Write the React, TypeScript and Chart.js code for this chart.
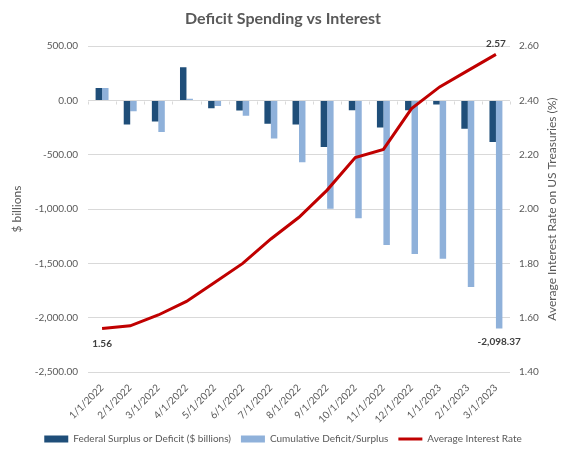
import React, { useEffect, useRef } from "react";
import { Chart, registerables } from "chart.js";

Chart.register(...registerables);

const categories = [
  "1/1/2022", "2/1/2022", "3/1/2022", "4/1/2022", "5/1/2022", "6/1/2022", "7/1/2022", "8/1/2022",
  "9/1/2022", "10/1/2022", "11/1/2022", "12/1/2022", "1/1/2023", "2/1/2023", "3/1/2023",
];
const federalSurplus = [116, -220, -193, 306, -71, -92, -215, -220, -429, -89, -248, -89, -37, -261, -381];
const cumulativeDeficit = [116, -98, -291, 15, -50, -141, -349, -569, -996, -1084, -1330, -1414, -1457, -1717, -2098.37];
const interestRate = [1.56, 1.57, 1.61, 1.66, 1.73, 1.8, 1.89, 1.97, 2.07, 2.19, 2.22, 2.37, 2.45, 2.51, 2.57];
const rightAxisTitle = "Average Interest Rate on US Treasuries (%)";

const FONT = "Lato, 'Open Sans', sans-serif";
const TEXT = "#595959";
const GRID = "#d9d9d9";

const fmtBillions = (v: number) =>
  v.toLocaleString("en-US", { minimumFractionDigits: 2, maximumFractionDigits: 2 });

const labelsPlugin = {
  id: "customLabels",
  afterDatasetsDraw(chart: any) {
    const ctx = chart.ctx;
    const y = chart.scales.y;
    const area = chart.chartArea;
    // tick marks on the zero line
    ctx.save();
    ctx.strokeStyle = GRID;
    ctx.lineWidth = 1;
    const y0 = Math.round(y.getPixelForValue(0)) + 0.5;
    const n = categories.length;
    const step = (area.right - area.left) / n;
    for (let i = 0; i <= n; i++) {
      const px = Math.round(area.left + i * step) + 0.5;
      ctx.beginPath();
      ctx.moveTo(px, y0);
      ctx.lineTo(px, y0 + 3);
      ctx.stroke();
    }
    ctx.restore();

    ctx.save();
    ctx.fillStyle = "#404040";
    ctx.font = `bold 10px ${FONT}`;
    ctx.textAlign = "center";
    ctx.textBaseline = "middle";
    const lineMeta = chart.getDatasetMeta(2);
    const first = lineMeta.data[0];
    const last = lineMeta.data[lineMeta.data.length - 1];
    ctx.fillText(interestRate[0].toFixed(2), first.x, first.y + 15);
    ctx.fillText(interestRate[interestRate.length - 1].toFixed(2), last.x, last.y - 11);
    const barMeta = chart.getDatasetMeta(1);
    const lastBar = barMeta.data[barMeta.data.length - 1];
    ctx.fillText(fmtBillions(cumulativeDeficit[cumulativeDeficit.length - 1]), lastBar.x, lastBar.y + 13);
    ctx.restore();

    // right axis title, reading bottom to top
    ctx.save();
    ctx.fillStyle = TEXT;
    ctx.font = `12px ${FONT}`;
    ctx.textAlign = "center";
    ctx.textBaseline = "middle";
    ctx.translate(chart.scales.y1.right - 4, (area.top + area.bottom) / 2);
    ctx.rotate(-Math.PI / 2);
    ctx.fillText(rightAxisTitle, 0, 0);
    ctx.restore();
  },
};

export default function App() {
  const ref = useRef<HTMLCanvasElement | null>(null);

  useEffect(() => {
    if (!ref.current) return;
    const chart = new Chart(ref.current, {
      type: "bar",
      data: {
        labels: categories,
        datasets: [
          {
            type: "bar",
            label: "Federal Surplus or Deficit ($ billions)",
            data: federalSurplus,
            backgroundColor: "#1F4E79",
            yAxisID: "y",
            order: 1,
            barPercentage: 1,
            categoryPercentage: 0.46,
          },
          {
            type: "bar",
            label: "Cumulative Deficit/Surplus",
            data: cumulativeDeficit,
            backgroundColor: "#8FB1DA",
            yAxisID: "y",
            order: 1,
            barPercentage: 1,
            categoryPercentage: 0.46,
          },
          {
            type: "line",
            label: "Average Interest Rate",
            data: interestRate,
            borderColor: "#C00000",
            backgroundColor: "#C00000",
            borderWidth: 3,
            pointRadius: 0,
            tension: 0,
            yAxisID: "y1",
            order: 0,
          } as any,
        ],
      },
      options: {
        animation: false,
        responsive: true,
        maintainAspectRatio: false,
        layout: { padding: { left: 10, right: 7, top: 6, bottom: 5 } },
        plugins: {
          tooltip: { enabled: false },
          title: {
            display: true,
            text: "Deficit Spending vs Interest",
            color: TEXT,
            font: { family: FONT, size: 16, weight: "bold" },
            padding: { top: 3, bottom: 18 },
          },
          legend: {
            position: "bottom",
            labels: {
              usePointStyle: true,
              pointStyleWidth: 24,
              boxHeight: 7,
              color: TEXT,
              font: { family: FONT, size: 10 },
              padding: 10,
              sort: (a: any, b: any) => a.datasetIndex - b.datasetIndex,
              generateLabels: (chart: any) => {
                const items = Chart.defaults.plugins.legend.labels.generateLabels(chart);
                return items.map((it: any) => ({
                  ...it,
                  pointStyle: it.datasetIndex === 2 ? "line" : "rect",
                  strokeStyle: it.datasetIndex === 2 ? "#C00000" : "rgba(0,0,0,0)",
                  lineWidth: it.datasetIndex === 2 ? 3 : 0,
                }));
              },
            },
          },
        },
        scales: {
          x: {
            grid: { display: false },
            border: { display: false },
            ticks: {
              color: TEXT,
              font: { family: FONT, size: 10 },
              minRotation: 45,
              maxRotation: 45,
              padding: 2,
            },
            afterFit: (s: any) => {
              s.height = 52;
            },
          },
          y: {
            position: "left",
            min: -2500,
            max: 500,
            border: { display: false },
            grid: { color: GRID, drawTicks: false },
            ticks: {
              stepSize: 500,
              color: TEXT,
              font: { family: FONT, size: 10 },
              padding: 10,
              callback: (v: any) => fmtBillions(Number(v)),
            },
            title: {
              display: true,
              text: "$ billions",
              color: TEXT,
              font: { family: FONT, size: 12 },
              padding: 0,
            },
            afterFit: (s: any) => {
              s.width = 78;
            },
          },
          y1: {
            position: "right",
            min: 1.4,
            max: 2.6,
            border: { display: false },
            grid: { drawOnChartArea: false, drawTicks: false },
            ticks: {
              stepSize: 0.2,
              color: TEXT,
              font: { family: FONT, size: 10 },
              padding: 9,
              callback: (v: any) => Number(v).toFixed(2),
            },
            title: { display: false },
            afterFit: (s: any) => {
              s.width = 46;
            },
          },
        },
      },
      plugins: [labelsPlugin],
    });
    return () => chart.destroy();
  }, []);

  return (
    <div style={{ position: "fixed", left: 0, top: 0, width: 563, height: 459, background: "#fff" }}>
      <canvas ref={ref} />
    </div>
  );
}
